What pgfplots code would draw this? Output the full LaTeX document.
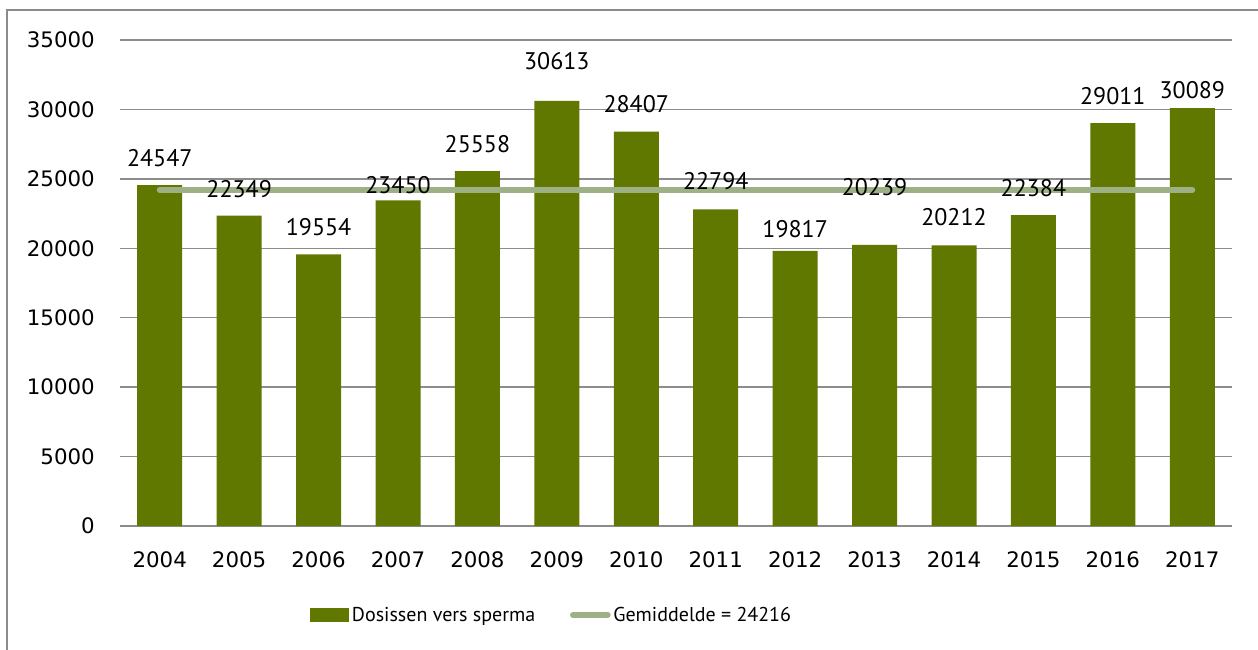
\documentclass[border=0pt]{standalone}
\usepackage{fontspec}
\setmainfont{DejaVu Sans}
\newfontfamily\lblfont{PT Sans}
\usepackage{pgfplots}
\usepackage{pgfplotstable}
\pgfplotsset{compat=1.18}
\definecolor{barcol}{RGB}{96,120,0}
\definecolor{meancol}{RGB}{158,176,133}
\definecolor{gridcol}{RGB}{140,140,140}

\pgfplotstableread{
x y off
0 24547 14.25
1 22349 13.5
2 19554 14.25
3 23450 5.25
4 25558 14.25
5 30613 23.25
6 28407 14.25
7 22794 15
8 19817 9.75
9 20239 36.75
10 20212 15
11 22384 14.25
12 29011 14.25
13 30089 7.5
}\datatable

\pgfplotstableread{
x y
0 24216
13 24216
}\meantable

\begin{document}
\begin{tikzpicture}
\path[use as bounding box] (0,0) rectangle (943.5pt,-487.5pt);
\draw[gridcol, line width=1.5pt] (5.25pt,-487.5pt) -- (5.25pt,-7.5pt) -- (943.5pt,-7.5pt);
\begin{axis}[
  at={(90pt,-394.5pt)}, anchor=south west,
  scale only axis,
  width=834pt, height=364.5pt,
  xmin=-0.5, xmax=13.5,
  ymin=0, ymax=35000,
  ytick={0,5000,...,35000},
  xtick={0,...,13},
  xticklabels={2004,2005,2006,2007,2008,2009,2010,2011,2012,2013,2014,2015,2016,2017},
  axis line style={draw=none},
  major tick length=0pt,
  ymajorgrids,
  grid style={gridcol, line width=1.1pt},
  /pgf/number format/1000 sep={},
  /pgf/number format/assume math mode=true,
  tick label style={font=\fontsize{16}{19}\selectfont, inner sep=0pt},
  yticklabel style={anchor=east, xshift=-18.75pt},
  xticklabel style={anchor=base, yshift=-30.75pt},
  scaled y ticks=false,
  clip=false,
  legend columns=2,
  legend style={at={(0.3885,-0.183)}, anchor=center, draw=none, fill=none,
    font=\lblfont\fontsize{15}{18}\selectfont,
    nodes={inner xsep=2pt, inner ysep=2pt},
    /tikz/every even column/.append style={column sep=24pt},
    inner sep=0pt},
  legend cell align=left,
]
\addplot[ybar, bar width=33.75pt, fill=barcol, draw=none,
  legend image code/.code={\fill[barcol] (0pt,-5.4pt) rectangle (29.25pt,5.4pt);}]
  table[x=x, y=y] {\datatable};
\addlegendentry{Dosissen vers sperma}
\addplot[meancol, line width=4.5pt, line cap=round,
  legend image code/.code={\draw[meancol, line width=4.5pt, line cap=round] (2pt,0pt) -- (28pt,0pt);}]
  table[x=x, y=y] {\meantable};
\addlegendentry{Gemiddelde = 24216}
\addplot[draw=none, mark=none, forget plot,
  visualization depends on={\thisrow{off} \as \myoff},
  point meta=explicit symbolic,
  nodes near coords,
  nodes near coords style={font=\lblfont\fontsize{18}{21}\selectfont, anchor=base, yshift=\myoff pt, inner sep=0pt}]
  table[x=x, y=y, meta=y] {\datatable};
\end{axis}
\end{tikzpicture}
\end{document}
